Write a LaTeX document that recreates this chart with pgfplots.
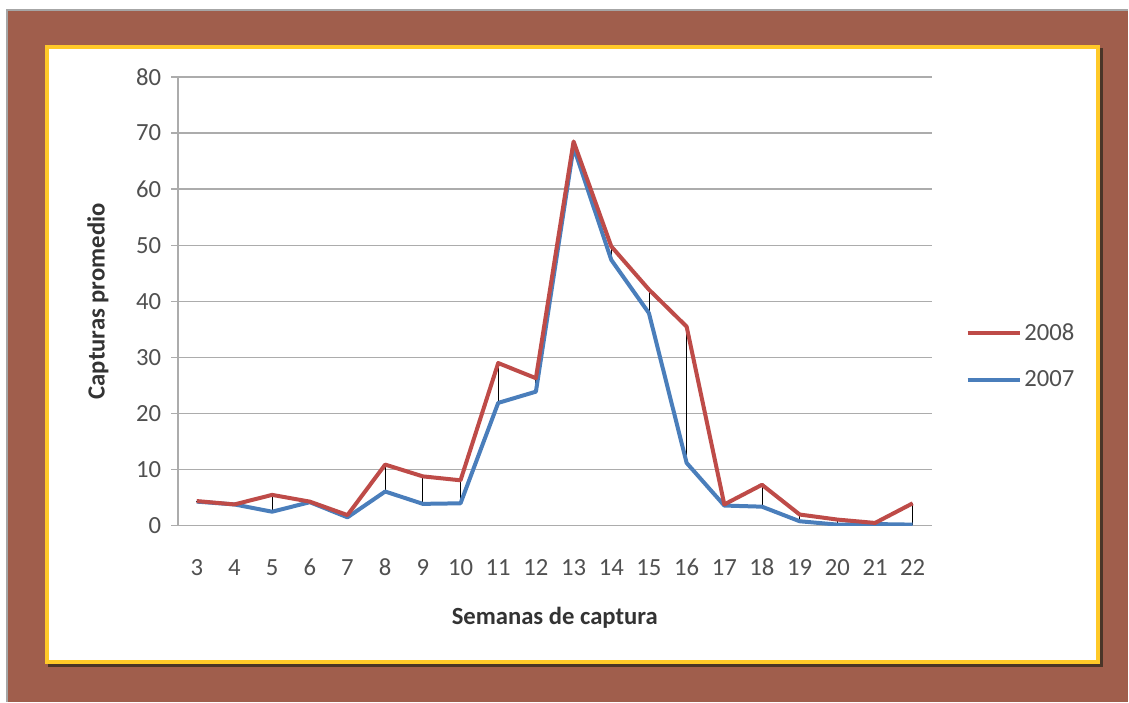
\documentclass[border=0pt]{standalone}
\usepackage{fontspec}
\setmainfont{Carlito}
\usepackage{pgfplots}
\pgfplotsset{compat=1.18}
\usepackage{pgfplotstable}
\definecolor{framebrown}{HTML}{A05E4C}
\definecolor{frameyellow}{HTML}{FFC928}
\definecolor{frameshadow}{HTML}{4A3528}
\definecolor{red08}{HTML}{BE4B48}
\definecolor{blue07}{HTML}{4A7EBB}
\definecolor{ticktext}{HTML}{505050}
\definecolor{labeltext}{HTML}{333333}

\pgfplotstableread{
x r b
3 4.4 4.3
4 3.8 3.8
5 5.5 2.5
6 4.3 4.2
7 1.9 1.5
8 10.9 6.1
9 8.8 3.9
10 8.1 4.0
11 29.0 21.9
12 26.3 23.9
13 68.5 67.5
14 49.8 47.4
15 42.1 37.9
16 35.5 11.2
17 3.8 3.6
18 7.3 3.4
19 2.0 0.8
20 1.1 0.2
21 0.5 0.3
22 4.0 0.2
}\data

\begin{document}
\begin{tikzpicture}[font=\fontsize{18.5}{22}\selectfont]
\begin{scope}[x=0.75pt,y=0.75pt]
\fill[white] (0,0) rectangle (1129,702);
\fill[framebrown] (7,0) rectangle (1129,692);
\draw[gray!70, line width=0.8pt] (7,0) -- (7,692) -- (1129,692);
\fill[frameshadow] (48,35) rectangle (1104,654);
\fill[frameyellow] (45,38) rectangle (1101,657);
\fill[white] (49,42) rectangle (1097,653);
\end{scope}
\begin{axis}[
  at={(133.5pt,132pt)}, anchor=south west,
  scale only axis, width=565.5pt, height=336.75pt,
  xmin=2.5, xmax=22.5, ymin=0, ymax=80,
  xtick={3,...,22}, ytick={0,10,...,80},
  axis x line*=bottom, axis y line*=left,
  axis line style={-, gray!65, line width=1.1pt},
  ymajorgrids, grid style={gray!65, line width=1.1pt},
  tick align=outside, major tick length=5pt,
  xtick style={draw=none},
  ytick style={gray!65, line width=1.1pt},
  /pgf/number format/assume math mode=true,
  tick label style={font=\fontsize{18.5}{22}\selectfont, text=ticktext},
  yticklabel style={anchor=east, xshift=-4pt},
  xticklabel style={yshift=-17pt, text height=12pt, text depth=0pt},
  xlabel={Semanas de captura}, ylabel={Capturas promedio},
  label style={font=\fontsize{18.5}{22}\selectfont\bfseries, text=labeltext},
  xlabel style={at={(axis description cs:0.5,-0.205)}, anchor=center},
  ylabel style={at={(axis description cs:-0.106,0.5)}, anchor=center},
  reverse legend,
  legend style={at={(axis description cs:1.045,0.3775)}, anchor=west,
    draw=none, fill=none, inner sep=0pt, row sep=17pt,
    font=\fontsize{18.5}{22}\selectfont, text=ticktext,
    nodes={inner sep=2pt}},
  legend cell align=left,
  legend image code/.code={\draw[#1, line width=3pt] (0pt,0pt) -- (39pt,0pt);},
]
\addplot[draw=none, mark=none, forget plot,
  error bars/.cd, y dir=plus, y explicit,
  error bar style={black, line width=0.6pt}, error mark=none]
  table[x=x, y=b, y error expr=\thisrow{r}-\thisrow{b}] {\data};
\addplot[blue07, line width=3pt, mark=none, line join=round] table[x=x, y=b] {\data};
\addlegendentry{2007}
\addplot[red08, line width=3pt, mark=none, line join=round] table[x=x, y=r] {\data};
\addlegendentry{2008}
\end{axis}
\end{tikzpicture}
\end{document}
